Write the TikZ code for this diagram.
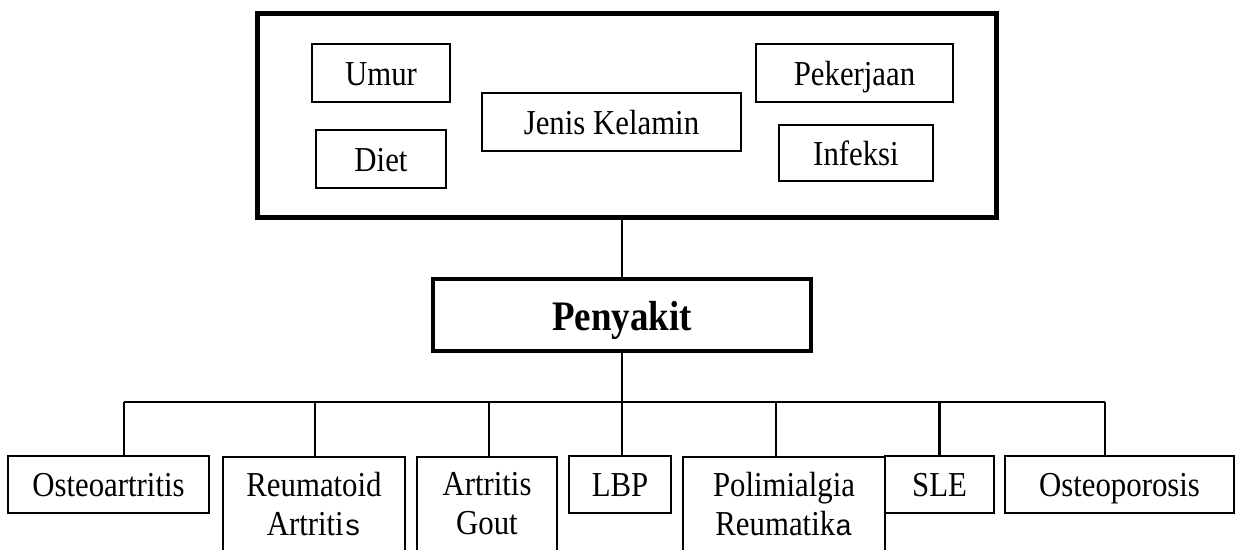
\documentclass[tikz,border=0pt]{standalone}
\usepackage{fontspec}
\setmainfont[FakeStretch=0.88]{Liberation Serif}
\setmonofont{Liberation Mono}
\usetikzlibrary{positioning}

\begin{document}
\begin{tikzpicture}[
    x=1pt, y=-1pt,
    every node/.style={draw, rectangle, align=center, line width=1.5pt, inner sep=0pt,
        font=\fontsize{35}{39}\selectfont},
    box/.style={text height=24pt, text depth=0pt},
    twoline/.style={anchor=north, minimum height=94pt},
    link/.style={line width=2.5pt}
]
\useasboundingbox (0,0) rectangle (1241,549);
\clip (0,0) rectangle (1241,549);
\node (faktor) [line width=5pt, minimum width=739pt, minimum height=204pt] at (626.5,115) {};
\node (umur) [box, minimum width=138pt, minimum height=58pt] at (381,73) {Umur};
\node (diet) [box, minimum width=130pt, minimum height=58pt] at (381,159) {Diet};
\node (jenis) [box, minimum width=259pt, minimum height=58pt] at (611.5,122) {Jenis Kelamin};
\node (pekerjaan) [box, minimum width=197pt, minimum height=58pt] at (854.5,73) {Pekerjaan};
\node (infeksi) [box, minimum width=154pt, minimum height=56pt] at (856,153) {Infeksi};
\node (penyakit) [line width=4pt, minimum width=378pt, minimum height=72pt,
    font=\fontsize{42}{48}\selectfont\bfseries, text height=30pt, text depth=0pt] at (622,315) {Penyakit};
\node (osteoartritis) [box, minimum width=201pt, minimum height=57pt] at (108.5,484.5) {Osteoartritis};
\node (reumatoid) [twoline, minimum width=182pt] at (314,456) {Reumatoid\\Artriti{\fontsize{29}{39}\ttfamily s}};
\node (gout) [twoline, minimum width=140pt] at (487,456) {Artritis\\Gout};
\node (lbp) [box, minimum width=102pt, minimum height=57pt] at (620,484.5) {LBP};
\node (polimialgia) [twoline, minimum width=202pt] at (784,456) {Polimialgia\\Reumatik{\fontsize{29}{39}\ttfamily a}};
\node (sle) [box, minimum width=109pt, minimum height=57pt] at (939.5,484.5) {SLE};
\node (osteoporosis) [box, minimum width=229pt, minimum height=57pt] at (1119.5,484.5) {Osteoporosis};
\coordinate (bus) at (0,402);
\draw[link] (penyakit.north) -- (penyakit.north |- faktor.south);
\draw[link] (penyakit.south) -- (penyakit.south |- bus);
\path ([xshift=15.5pt]osteoartritis.north) coordinate (busL) ([xshift=-14.5pt]osteoporosis.north) coordinate (busR);
\draw[link] (busL |- bus) -- (busR |- bus);
\foreach \n/\dx in {osteoartritis/15.5, reumatoid/1, gout/2, lbp/2, polimialgia/-8, sle/0, osteoporosis/-14.5} {
    \path ([xshift=\dx pt]\n.north) coordinate (top);
    \draw[link] (top) -- (top |- bus);
}
\end{tikzpicture}
\end{document}
